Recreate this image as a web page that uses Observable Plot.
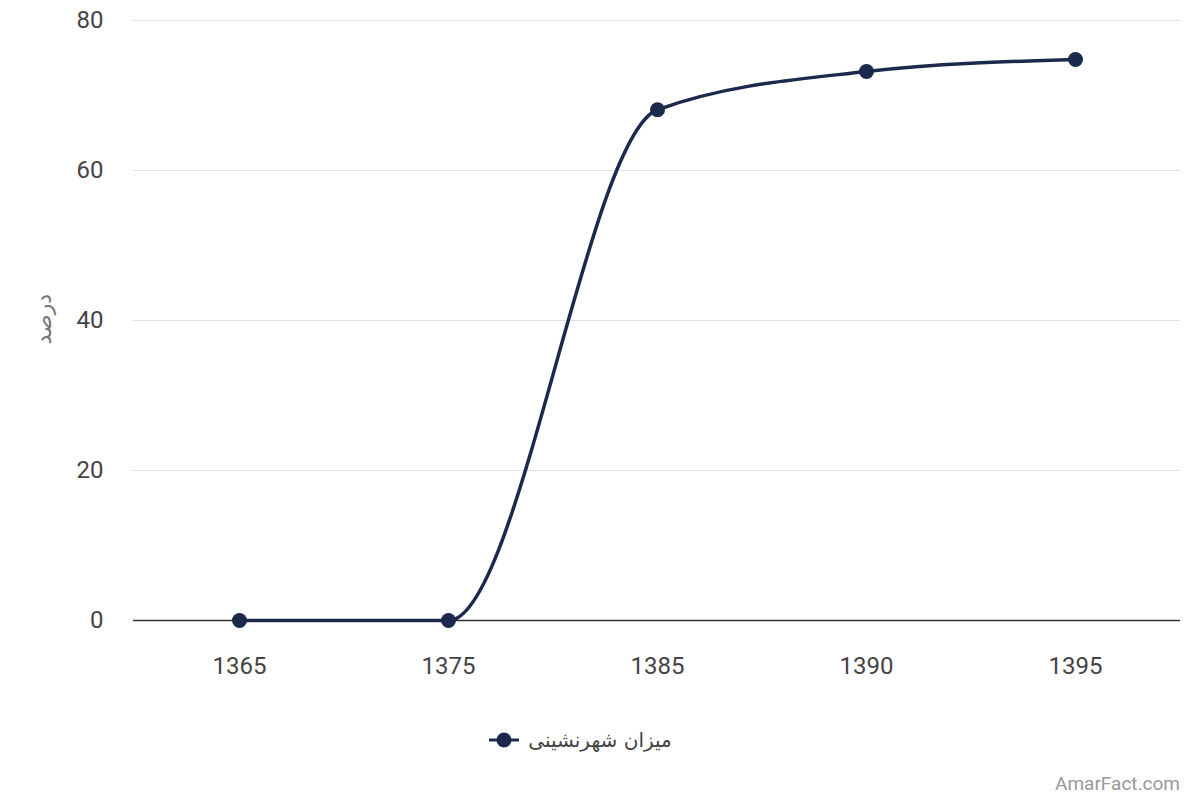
<!DOCTYPE html>
<html>
<head>
<meta charset="utf-8">
<script src="https://cdn.jsdelivr.net/npm/d3@7"></script>
<script src="https://cdn.jsdelivr.net/npm/@observablehq/plot@0.6"></script>
<style>
  html, body { margin: 0; padding: 0; background: #fff; }
  body { width: 1200px; height: 800px; position: relative; font-family: Roboto, "DejaVu Sans", sans-serif; overflow: hidden; }
  #legend { position: absolute; top: 728px; left: 0; width: 1200px; display: flex; justify-content: center; align-items: center; }
  #legend .item { display: flex; align-items: center; margin-left: -40px; }
  #legend span { font-size: 20px; color: #444; margin-left: 8px; font-family: "DejaVu Sans", Roboto, sans-serif; }
  #credit { position: absolute; right: 20px; top: 772px; font-size: 19px; color: #999; }
</style>
</head>
<body>
<div id="chart"></div>
<div id="legend"></div>
<div id="credit">AmarFact.com</div>
<script>
const years = ["1365", "1375", "1385", "1390", "1395"];
const values = [0, 0, 68.1, 73.2, 74.8];
const yTicks = [0, 20, 40, 60, 80];
const seriesName = "میزان شهرنشینی";
const yLabel = "درصد";
const credit = "AmarFact.com";
const color = "#1b2a4c";

const data = years.map((y, i) => ({year: y, value: values[i]}));

const chart = Plot.plot({
  width: 1200,
  height: 700,
  marginTop: 20,
  marginBottom: 80,
  marginLeft: 133,
  marginRight: 20,
  style: {fontFamily: "Roboto, sans-serif", fontSize: "24px", color: "#444"},
  x: {type: "point", domain: years, padding: 0.5, label: null},
  y: {domain: [0, 80], label: null},
  marks: [
    Plot.gridY(yTicks, {stroke: "#e0e0e0", strokeOpacity: 1, strokeWidth: 1}),
    Plot.ruleY([0], {stroke: "#333", strokeWidth: 1.5}),
    Plot.axisY(yTicks, {tickSize: 0, tickPadding: 30, fontSize: 24, fill: "#444", label: null}),
    Plot.axisX(years, {tickSize: 0, tickPadding: 36, fontSize: 24, fill: "#444", label: null}),
    Plot.text([yLabel], {frameAnchor: "left", dx: -90, dy: 24, rotate: -90, fontSize: 22, fill: "#777", fontFamily: "DejaVu Sans, sans-serif"}),
    Plot.line(data, {x: "year", y: "value", curve: "monotone-x", stroke: color, strokeWidth: 3.5}),
    Plot.dot(data, {x: "year", y: "value", r: 7.5, fill: color, stroke: "none"})
  ]
});
document.getElementById("chart").appendChild(chart);

const legend = document.getElementById("legend");
const item = document.createElement("div");
item.className = "item";
item.innerHTML = `<svg width="32" height="20"><line x1="1" y1="10" x2="31" y2="10" stroke="${color}" stroke-width="3"/><circle cx="16" cy="10" r="7.5" fill="${color}"/></svg><span dir="rtl">${seriesName}</span>`;
legend.appendChild(item);
document.getElementById("credit").textContent = credit;
</script>
</body>
</html>
